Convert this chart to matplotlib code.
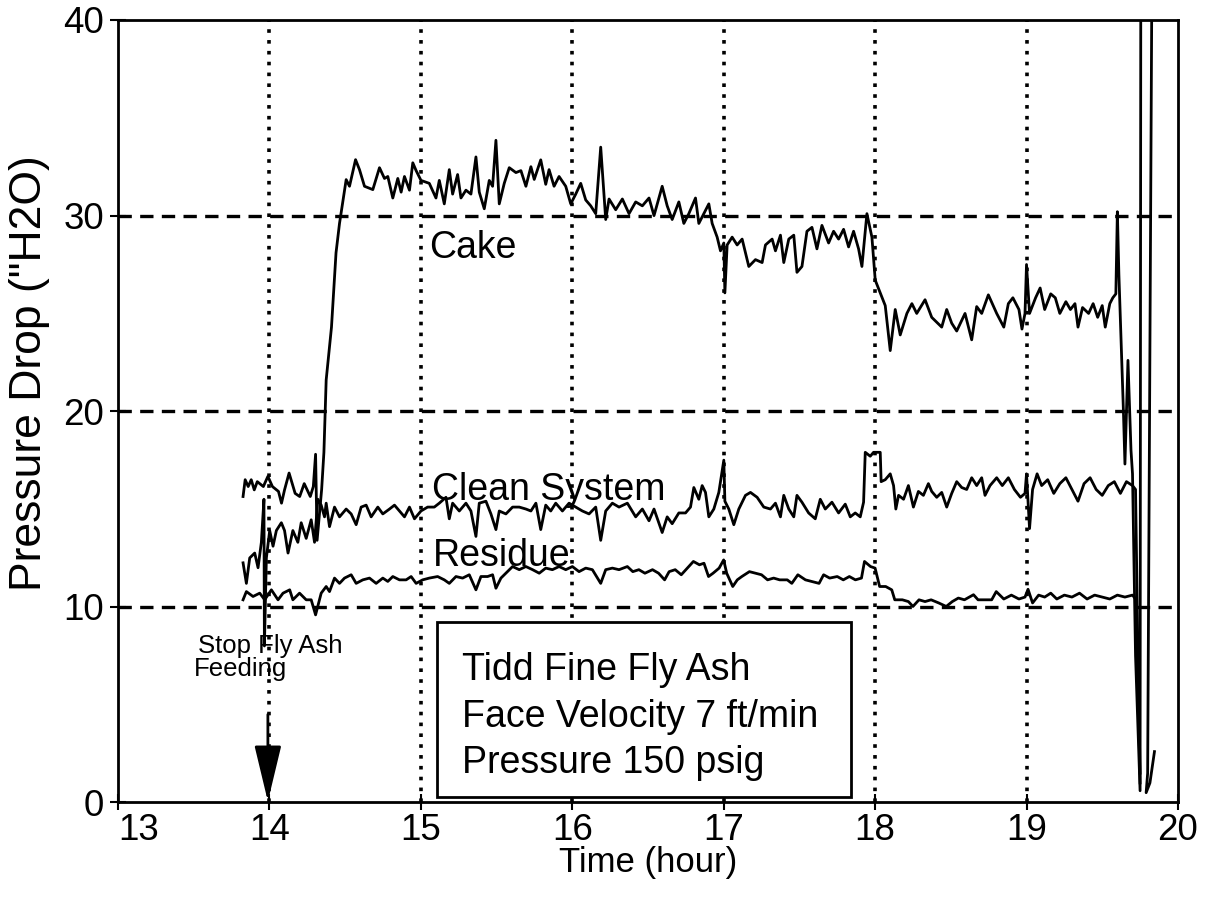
import matplotlib
matplotlib.use('Agg')
import matplotlib.pyplot as plt
from matplotlib.patches import Rectangle

plt.rcParams['font.family'] = ['Liberation Sans', 'DejaVu Sans']

# ---- data (hour, "H2O) ----
cake_t = [13.826, 13.84, 13.86, 13.88, 13.90, 13.92, 13.96, 13.99, 14.02, 14.06,
          14.08, 14.10, 14.13, 14.17, 14.20, 14.23, 14.27, 14.29, 14.305, 14.315,
          14.345, 14.36, 14.375, 14.41, 14.44, 14.463, 14.496, 14.507,
          14.529, 14.569, 14.595, 14.628, 14.683, 14.727, 14.76, 14.782, 14.815, 14.848,
          14.87, 14.892, 14.925, 14.947, 14.969, 15.001, 15.056, 15.1, 15.122, 15.155,
          15.188, 15.21, 15.243, 15.265, 15.298, 15.331, 15.364, 15.386, 15.419, 15.452,
          15.474, 15.496, 15.518, 15.551, 15.584, 15.628, 15.661, 15.694, 15.727, 15.749,
          15.792, 15.825, 15.847, 15.88, 15.913, 15.957, 15.99, 16.023, 16.056, 16.089,
          16.122, 16.155, 16.188, 16.221,
          16.243, 16.287, 16.331, 16.375, 16.419, 16.463, 16.507, 16.54, 16.594, 16.627,
          16.66, 16.704, 16.737, 16.77, 16.814, 16.836, 16.869, 16.902, 16.924, 16.957,
          16.979, 17.001, 17.008, 17.023, 17.056, 17.089, 17.122, 17.166, 17.21, 17.254,
          17.276, 17.32, 17.342, 17.375, 17.397, 17.43, 17.463, 17.484, 17.517, 17.55,
          17.583, 17.616, 17.649, 17.693, 17.726, 17.759, 17.792, 17.825, 17.858, 17.891,
          17.913, 17.946, 17.979, 18.001, 18.034, 18.067, 18.1, 18.133, 18.166, 18.21,
          18.243, 18.275, 18.33, 18.374, 18.44, 18.473, 18.506, 18.539, 18.594, 18.638,
          18.671, 18.704, 18.748, 18.803,
          18.85, 18.88, 18.91, 18.95, 18.97, 18.99, 19.0, 19.02, 19.06, 19.09,
          19.12, 19.16, 19.19, 19.22, 19.26, 19.29, 19.32, 19.34, 19.37, 19.41,
          19.44, 19.47, 19.50, 19.52, 19.55, 19.57, 19.59, 19.60, 19.61, 19.64,
          19.65, 19.67, 19.69, 19.70, 19.72, 19.75, 19.755]
cake_p = [15.64, 16.5, 16.15, 16.5, 15.98, 16.4, 16.15, 16.67, 16.15, 15.9,
          15.3, 15.98, 16.84, 15.8, 15.64, 16.3, 15.64, 16.15, 17.8, 13.4,
          16.0, 17.9, 21.6, 24.3, 28.1, 29.6, 31.3, 31.84,
          31.5, 32.86, 32.35, 31.5, 31.33, 32.45, 31.9, 32.0, 30.9, 31.9,
          31.2, 32.0, 31.3, 32.7, 32.3, 31.8, 31.65, 30.9, 31.8, 30.6,
          32.35, 31.1, 32.1, 30.9, 31.3, 31.1, 33.0, 31.2, 30.35, 31.8,
          31.5, 33.85, 30.6, 31.65, 32.45, 32.2, 32.3, 31.5, 32.5, 31.85,
          32.85, 31.6, 32.35, 31.5, 32.0, 31.5, 30.6, 31.1, 31.65, 30.8,
          30.5, 30.1, 33.5, 29.8,
          30.85, 30.3, 30.85, 30.1, 30.7, 30.5, 30.9, 30.0, 31.5, 30.5,
          29.8, 30.7, 29.6, 30.1, 30.9, 29.6, 30.1, 30.6, 29.6, 28.9,
          28.2, 28.6, 26.05, 28.5, 28.9, 28.5, 28.8, 27.4, 27.75, 27.6,
          28.5, 28.8, 28.2, 29.0, 27.6, 28.8, 29.0, 27.1, 27.4, 29.2,
          29.4, 28.3, 29.5, 28.6, 29.2, 28.8, 29.3, 28.4, 29.2, 28.3,
          27.4, 30.1, 28.9, 26.7, 26.05, 25.4, 23.1, 25.2, 23.9, 25.0,
          25.5, 25.0, 25.7, 24.8, 24.3, 25.2, 24.5, 24.1, 25.0, 23.65,
          25.35, 25.0, 25.95, 25.0,
          24.3, 25.5, 25.8, 25.2, 24.2, 25.0, 27.5, 25.0, 25.8, 26.3,
          25.2, 26.0, 25.8, 25.0, 25.6, 25.2, 25.5, 24.3, 25.3, 25.0,
          25.5, 24.8, 25.4, 24.3, 25.5, 25.8, 26.0, 30.2, 27.0, 20.0,
          17.3, 22.6, 18.0, 16.8, 7.5, 0.6, 45.0]

clean_t = [13.826, 13.848, 13.87, 13.903, 13.925, 13.947, 13.964, 13.967, 13.98, 14.002,
           14.024, 14.046, 14.079, 14.10, 14.123, 14.155, 14.188, 14.21, 14.243, 14.276,
           14.298, 14.32, 14.342, 14.364,
           14.375, 14.397, 14.43, 14.463, 14.507, 14.54, 14.573, 14.606, 14.639, 14.672,
           14.716, 14.749, 14.793, 14.826, 14.859, 14.892, 14.925, 14.958, 15.001, 15.045,
           15.089, 15.122, 15.166, 15.188, 15.21, 15.254, 15.298, 15.331, 15.364, 15.386,
           15.43, 15.463, 15.496, 15.518, 15.562, 15.606, 15.65, 15.694, 15.727, 15.76,
           15.792, 15.825, 15.858, 15.891, 15.935, 15.979, 16.023, 16.067, 16.111, 16.155,
           16.188, 16.221, 16.265, 16.309, 16.364,
           16.419, 16.463, 16.507, 16.54, 16.594, 16.627, 16.66, 16.704, 16.748, 16.781,
           16.803, 16.836, 16.858, 16.88, 16.902, 16.935, 16.968, 17.001, 17.008, 17.034,
           17.067, 17.1, 17.144, 17.177, 17.221, 17.265, 17.309, 17.342, 17.375, 17.397,
           17.43, 17.463, 17.484, 17.517, 17.561, 17.605, 17.638, 17.671, 17.715, 17.759,
           17.803, 17.836, 17.869, 17.902, 17.924, 17.935, 17.968, 17.99, 18.034, 18.04,
           18.067, 18.1, 18.122, 18.137, 18.155, 18.188, 18.22, 18.253, 18.286, 18.319,
           18.352, 18.374, 18.407, 18.44, 18.473, 18.506, 18.539, 18.572, 18.605, 18.638,
           18.671, 18.704, 18.726, 18.759, 18.803,
           18.84, 18.88, 18.92, 18.96, 18.99, 19.0, 19.02, 19.04, 19.07, 19.10,
           19.14, 19.18, 19.22, 19.26, 19.30, 19.34, 19.38, 19.42, 19.46, 19.50,
           19.54, 19.58, 19.62, 19.66, 19.70, 19.72, 19.735, 19.75]
clean_p = [12.25, 11.2, 12.5, 12.75, 12.0, 13.3, 15.5, 8.0, 12.5, 13.9,
           13.1, 13.9, 14.3, 13.9, 12.75, 13.9, 13.3, 14.3, 13.5, 14.45,
           13.3, 15.5, 15.2, 14.6,
           15.3, 14.1, 15.1, 14.6, 15.0, 14.75, 14.2, 15.1, 15.2, 14.6,
           15.1, 14.75, 15.0, 15.2, 14.9, 14.6, 15.1, 14.5, 14.9, 15.1,
           15.1, 15.3, 15.6, 14.5, 15.3, 14.9, 15.3, 14.9, 13.6, 15.3,
           15.4, 14.75, 13.95, 14.9, 14.75, 15.1, 15.1, 15.0, 14.9, 15.3,
           13.95, 15.2, 14.9, 15.3, 14.9, 15.3, 15.1, 14.9, 14.75, 15.1,
           13.4, 14.9, 15.3, 15.1, 15.3,
           14.6, 15.0, 14.4, 15.0, 13.8, 14.6, 14.25, 14.8, 14.8, 15.1,
           16.1, 15.5, 16.2, 15.85, 14.6, 15.0, 15.85, 17.5, 15.4, 15.0,
           14.2, 15.0, 15.7, 15.85, 15.6, 15.1, 15.0, 15.3, 14.6, 15.7,
           15.0, 14.6, 15.7, 15.35, 14.8, 14.5, 15.5, 15.0, 15.35, 14.8,
           15.25, 14.6, 14.8, 14.6, 15.35, 17.9, 17.7, 17.9, 17.9, 16.4,
           16.5, 16.8, 16.2, 15.0, 15.7, 15.5, 16.2, 15.1, 15.9, 15.7,
           16.3, 15.9, 15.6, 15.85, 15.1, 15.8, 16.4, 16.1, 16.0, 16.6,
           16.2, 16.6, 15.7, 16.2, 16.6,
           16.2, 16.6, 16.0, 15.6, 15.8, 16.8, 14.0, 16.0, 16.8, 16.2,
           16.5, 15.8, 16.3, 16.6, 16.0, 15.4, 16.3, 16.6, 16.0, 15.7,
           16.2, 16.4, 15.8, 16.4, 16.2, 16.0, 8.0, 1.5]

res_t = [13.826, 13.848, 13.892, 13.936, 13.969, 14.013, 14.057, 14.09, 14.134, 14.155,
         14.199, 14.243, 14.276, 14.305, 14.342, 14.375, 14.397, 14.43, 14.463, 14.496,
         14.54, 14.573, 14.617, 14.661, 14.705, 14.749, 14.782, 14.815, 14.859, 14.903,
         14.936, 14.969, 15.012, 15.056, 15.111, 15.155, 15.188, 15.232, 15.276, 15.32,
         15.364, 15.397, 15.441, 15.474, 15.496, 15.529, 15.562, 15.606, 15.65, 15.694,
         15.738, 15.782, 15.825, 15.869, 15.913, 15.957, 16.001, 16.045, 16.089, 16.133,
         16.188, 16.221, 16.265, 16.309, 16.364,
         16.40, 16.44, 16.48, 16.53, 16.57, 16.61, 16.64, 16.68, 16.72, 16.76,
         16.80, 16.84, 16.87, 16.90, 16.93, 16.97, 17.0, 17.02, 17.06, 17.09,
         17.12, 17.17, 17.21, 17.25, 17.29, 17.33, 17.37, 17.42, 17.45, 17.49,
         17.54, 17.58, 17.63, 17.66, 17.70, 17.75, 17.79, 17.83, 17.87, 17.91,
         17.93, 17.97, 18.0, 18.03, 18.07, 18.11, 18.13, 18.18, 18.22, 18.25,
         18.29, 18.33, 18.37, 18.42, 18.47, 18.51, 18.55, 18.59, 18.65, 18.68,
         18.73, 18.77, 18.80,
         18.85, 18.90, 18.95, 18.99, 19.01, 19.04, 19.08, 19.12, 19.16, 19.20,
         19.25, 19.30, 19.35, 19.40, 19.45, 19.50, 19.55, 19.60, 19.65, 19.70,
         19.72, 19.735, 19.75]
res_p = [10.36, 10.78, 10.53, 10.7, 10.36, 10.87, 10.36, 10.7, 10.87, 10.36,
         10.7, 10.36, 10.36, 9.59, 10.7, 11.04, 10.78, 11.47, 11.2, 11.47,
         11.64, 11.2, 11.38, 11.47, 11.2, 11.47, 11.3, 11.55, 11.38, 11.38,
         11.55, 11.2, 11.38, 11.47, 11.55, 11.38, 11.2, 11.55, 11.47, 11.64,
         10.87, 11.55, 11.55, 11.64, 10.95, 11.47, 11.72, 12.06, 11.9, 12.06,
         11.9, 11.72, 11.98, 11.9, 12.06, 11.9, 12.06, 11.8, 11.98, 11.9,
         11.2, 11.9, 11.98, 11.9, 12.06,
         11.8, 11.9, 11.72, 11.9, 11.72, 11.38, 11.8, 11.9, 11.64, 11.98,
         12.32, 12.15, 12.23, 11.55, 11.72, 11.98, 12.4, 11.72, 11.04, 11.38,
         11.55, 11.8, 11.72, 11.64, 11.38, 11.47, 11.38, 11.38, 11.2, 11.64,
         11.38, 11.3, 11.2, 11.64, 11.47, 11.55, 11.38, 11.55, 11.38, 11.47,
         12.32, 12.06, 11.98, 11.04, 11.04, 10.87, 10.36, 10.36, 10.27, 10.02,
         10.36, 10.27, 10.36, 10.2, 10.02, 10.27, 10.45, 10.36, 10.62, 10.36,
         10.36, 10.36, 10.78,
         10.4, 10.6, 10.4, 10.5, 10.9, 10.2, 10.6, 10.5, 10.7, 10.4,
         10.6, 10.5, 10.7, 10.4, 10.6, 10.5, 10.4, 10.6, 10.5, 10.6,
         10.4, 6.5, 1.0]

# tail of the trace after the pulse (goes off scale)
tail_t = [19.83, 19.80, 19.79, 19.815, 19.845]
tail_p = [45.0, 1.5, 0.5, 1.0, 2.6]

fig = plt.figure(figsize=(12.1, 9.09), dpi=100)
ax = fig.add_axes([0.0975, 0.1172, 0.876, 0.8608])

for xg in [14, 15, 16, 17, 18, 19]:
    ax.axvline(xg, color='black', lw=2.6, linestyle=(0, (1, 2)), zorder=1)
for yg in [10, 20, 30]:
    ax.axhline(yg, color='black', lw=2.4, linestyle=(0, (4, 2.5)), zorder=1)

ax.plot(cake_t, cake_p, color='black', lw=2.0, zorder=3)
ax.plot(clean_t, clean_p, color='black', lw=2.0, zorder=3)
ax.plot(res_t, res_p, color='black', lw=2.0, zorder=3)
ax.plot(tail_t, tail_p, color='black', lw=2.0, zorder=3)

ax.set_xlim(13, 20)
ax.set_ylim(0, 40)
ax.set_xticks(range(13, 21))
ax.set_yticks([0, 10, 20, 30, 40])
ax.tick_params(direction='inout', length=12, width=1.5, labelsize=26.5)
ax.tick_params(axis='x', pad=1.5)
ax.tick_params(axis='y', pad=4)
# first hour label sits just right of the corner, clear of the "0"
ax.get_xticklabels()[0].set_horizontalalignment('left')
for s in ax.spines.values():
    s.set_linewidth(2.0)

ax.set_xlabel('Time (hour)', fontsize=25, labelpad=-1)
ax.set_ylabel('Pressure Drop ("H2O)', fontsize=32)
ax.yaxis.set_label_coords(-0.064, 0.549)

ax.text(15.057, 27.85, 'Cake', fontsize=27, va='baseline', ha='left')
ax.text(15.077, 15.45, 'Clean System', fontsize=27, va='baseline', ha='left')
ax.text(15.077, 12.1, 'Residue', fontsize=27, va='baseline', ha='left')

box = Rectangle((15.11, 0.28), 2.73, 8.95, facecolor='white', edgecolor='black', lw=2.0, zorder=4)
ax.add_patch(box)
ax.text(15.27, 6.26, 'Tidd Fine Fly Ash', fontsize=27, va='baseline', ha='left', zorder=5)
ax.text(15.27, 3.86, 'Face Velocity 7 ft/min', fontsize=27, va='baseline', ha='left', zorder=5)
ax.text(15.27, 1.5, 'Pressure 150 psig', fontsize=27, va='baseline', ha='left', zorder=5)

ax.text(13.53, 7.65, 'Stop Fly Ash', fontsize=18.5, va='baseline', ha='left', zorder=5)
ax.text(13.50, 6.45, 'Feeding', fontsize=18.5, va='baseline', ha='left', zorder=5)
ax.annotate('', xy=(13.99, 0.05), xytext=(13.99, 4.5),
            arrowprops=dict(arrowstyle='-|>,head_length=1.75,head_width=0.42',
                            mutation_scale=20, color='black', lw=2.0, shrinkA=0, shrinkB=0),
            zorder=5)

fig.savefig('out.png', dpi=100)
